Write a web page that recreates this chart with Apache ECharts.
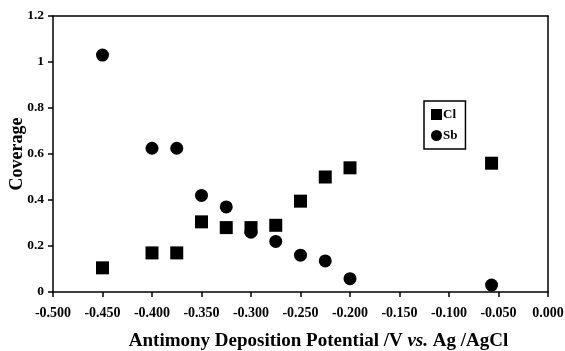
<!DOCTYPE html>
<html>
<head>
<meta charset="utf-8">
<script src="https://cdn.jsdelivr.net/npm/echarts@6/dist/echarts.min.js"></script>
<style>
  html, body { margin: 0; padding: 0; background: #fff; }
  #chart { width: 565px; height: 351px; }
</style>
</head>
<body>
<div id="chart"></div>
<script>
// deposition potential (V vs. Ag/AgCl)
const potentials = [-0.450, -0.400, -0.375, -0.350, -0.325, -0.300, -0.275, -0.250, -0.225, -0.200, -0.057];
const clCoverage = [0.105, 0.170, 0.170, 0.305, 0.280, 0.280, 0.290, 0.395, 0.500, 0.540, 0.560];
const sbCoverage = [1.030, 0.625, 0.625, 0.420, 0.370, 0.260, 0.220, 0.160, 0.135, 0.058, 0.030];

const font = 'Liberation Serif';

function pairs(xs, ys) {
  return xs.map((x, i) => [x, ys[i]]);
}

// plain lines for the top and right side of the frame
const frameAxis = {
  axisLine: { show: true, onZero: false, lineStyle: { color: '#000', width: 1.5 } },
  axisTick: { show: false },
  axisLabel: { show: false },
  splitLine: { show: false }
};

let myChart = echarts.init(document.getElementById('chart'));
let option = {
  animation: false,
  backgroundColor: '#fff',
  grid: {
    left: 53, right: 17, top: 16, bottom: 59,
    outerBoundsMode: 'none',
    containLabel: false,
    show: false
  },
  legend: {
    orient: 'vertical',
    left: 424,
    top: 101,
    width: 40,
    borderColor: '#000',
    borderWidth: 1.5,
    padding: [7, 8, 7, 7],
    itemGap: 8,
    itemWidth: 11,
    itemHeight: 11,
    textStyle: { fontFamily: font, fontWeight: 'bold', fontSize: 13, color: '#000', padding: [0, 0, 0, -4] },
    data: [
      { name: 'Cl', icon: 'rect' },
      { name: 'Sb', icon: 'circle' }
    ]
  },
  xAxis: [{
    type: 'value',
    min: -0.5,
    max: 0,
    interval: 0.05,
    name: 'Antimony Deposition Potential /V {i|vs.} Ag /AgCl',
    nameLocation: 'middle',
    nameGap: 40,
    nameMoveOverlap: false,
    nameTextStyle: {
      fontFamily: font, fontWeight: 'bold', fontSize: 19, color: '#000',
      padding: [0, 0, 0, 36],
      rich: { i: { fontFamily: font, fontWeight: 'bold', fontStyle: 'italic', fontSize: 19, color: '#000' } }
    },
    axisLine: { onZero: false, lineStyle: { color: '#000', width: 1.5 } },
    axisTick: { show: true, length: 5, lineStyle: { color: '#000', width: 1.5 } },
    axisLabel: {
      fontFamily: font, fontWeight: 'bold', fontSize: 14, color: '#000', margin: 14,
      formatter: v => v.toFixed(3)
    },
    splitLine: { show: false }
  }, Object.assign({ type: 'value', position: 'top', min: -0.5, max: 0 }, frameAxis)],
  yAxis: [{
    type: 'value',
    min: 0,
    max: 1.2,
    interval: 0.2,
    name: 'Coverage',
    nameLocation: 'middle',
    nameGap: 27,
    nameMoveOverlap: false,
    nameTextStyle: { fontFamily: font, fontWeight: 'bold', fontSize: 18, color: '#000' },
    axisLine: { show: true, onZero: false, lineStyle: { color: '#000', width: 1.5 } },
    axisTick: { show: true, length: 5, lineStyle: { color: '#000', width: 1.5 } },
    axisLabel: {
      fontFamily: font, fontWeight: 'bold', fontSize: 13.5, color: '#000', margin: 9,
      formatter: v => String(Math.round(v * 10) / 10)
    },
    splitLine: { show: false }
  }, Object.assign({ type: 'value', position: 'right', min: 0, max: 1.2 }, frameAxis)],
  series: [
    {
      name: 'Cl',
      type: 'scatter',
      symbol: 'rect',
      symbolSize: 13,
      itemStyle: { color: '#000', opacity: 1 },
      data: pairs(potentials, clCoverage)
    },
    {
      name: 'Sb',
      type: 'scatter',
      symbol: 'circle',
      symbolSize: 13,
      itemStyle: { color: '#000', opacity: 1 },
      data: pairs(potentials, sbCoverage)
    }
  ]
};
myChart.setOption(option);
</script>
</body>
</html>
